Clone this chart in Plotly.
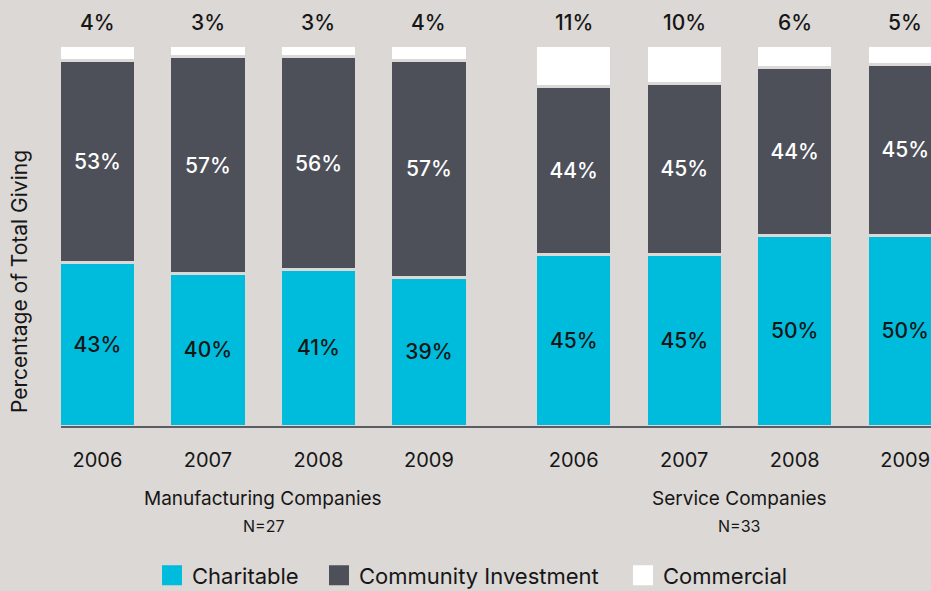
import plotly.graph_objects as go

# Share of total giving by type, per sector and year (percent)
years = ["2006", "2007", "2008", "2009"]
groups = ["Manufacturing Companies", "Service Companies"]
group_n = ["N=27", "N=33"]

charitable = [43, 40, 41, 39, 45, 45, 50, 50]
community = [53, 57, 56, 57, 44, 45, 44, 45]
commercial = [4, 3, 3, 4, 11, 10, 6, 5]

series_names = ["Charitable", "Community Investment", "Commercial"]

# Bar slots: four years per sector, with a wider gap between the sectors
group_gap = 0.31
xpos = [i for i in range(4)] + [4 + group_gap + i for i in range(4)]
ticktext = years + years

BG = "#dbd8d5"
CYAN = "#00bcdc"
DARK = "#4d5059"
WHITE = "#ffffff"
INK = "#161616"
FONT = "Inter"
series_colors = [CYAN, DARK, WHITE]

bar_width = 0.69
outline = dict(color=BG, width=3)
label_font = dict(size=21, family=FONT, weight=500)

fig = go.Figure()
fig.add_trace(go.Bar(
    name=series_names[0], x=xpos, y=charitable, width=bar_width,
    marker=dict(color=CYAN, line=outline), showlegend=False,
    text=[f"{v}%" for v in charitable], textposition="inside",
    insidetextanchor="middle", textangle=0,
    textfont=dict(color=INK, **label_font),
))
fig.add_trace(go.Bar(
    name=series_names[1], x=xpos, y=community, width=bar_width,
    marker=dict(color=DARK, line=outline), showlegend=False,
    text=[f"{v}%" for v in community], textposition="inside",
    insidetextanchor="middle", textangle=0,
    textfont=dict(color=WHITE, **label_font),
))
fig.add_trace(go.Bar(
    name=series_names[2], x=xpos, y=commercial, width=bar_width,
    marker=dict(color=WHITE, line=outline), showlegend=False,
    textposition="none",
))

# Legend entries with large square swatches, one legend box per series
legend_ids = ["legend", "legend2", "legend3"]
for name, color, lid in zip(series_names, series_colors, legend_ids):
    fig.add_trace(go.Scatter(
        x=[None], y=[None], mode="markers", name=name, legend=lid,
        marker=dict(symbol="square", size=16, color=color,
                    line=dict(color=color, width=4)),
        hoverinfo="skip",
    ))

annotations = []
# Commercial share printed above each stack
for x, v in zip(xpos, commercial):
    annotations.append(dict(
        x=x, y=100, xref="x", yref="y", text=f"{v}%", showarrow=False,
        yanchor="middle", yshift=23,
        font=dict(color=INK, **label_font),
    ))

# Sector names and sample sizes under the year labels
for g, (name, n) in enumerate(zip(groups, group_n)):
    mid = sum(xpos[g * 4:(g + 1) * 4]) / 4
    annotations.append(dict(
        x=mid, y=0, xref="x", yref="paper", text=name, showarrow=False,
        yanchor="middle", yshift=-72,
        font=dict(color=INK, size=19, family=FONT),
    ))
    annotations.append(dict(
        x=mid, y=0, xref="x", yref="paper", text=n, showarrow=False,
        yanchor="middle", yshift=-100,
        font=dict(color=INK, size=16, family=FONT),
    ))

# Vertical axis caption
annotations.append(dict(
    x=0, y=0.378, xref="paper", yref="paper", text="Percentage of Total Giving",
    showarrow=False, textangle=-90, xanchor="center", yanchor="middle",
    xshift=-41, font=dict(color=INK, size=21, family=FONT),
))

unit_px = 110.5
left_px = 61
plot_w = 931 - left_px
x0 = -0.33
x1 = x0 + plot_w / unit_px

legend_style = dict(
    orientation="h", xanchor="left", y=-0.392, yanchor="middle",
    font=dict(color=INK, size=22, family=FONT),
    bgcolor="rgba(0,0,0,0)", borderwidth=0,
)

fig.update_layout(
    width=931, height=591,
    margin=dict(l=left_px, r=0, t=45, b=165, autoexpand=False),
    paper_bgcolor=BG, plot_bgcolor=BG,
    barmode="stack",
    showlegend=True,
    legend=dict(x=(152 - left_px) / plot_w, **legend_style),
    legend2=dict(x=(319 - left_px) / plot_w, **legend_style),
    legend3=dict(x=(623 - left_px) / plot_w, **legend_style),
    xaxis=dict(
        range=[x0, x1], tickvals=xpos, ticktext=ticktext,
        showgrid=False, zeroline=False,
        showline=True, linecolor="#5b5d63", linewidth=1.5,
        ticks="outside", ticklen=15, tickcolor="rgba(0,0,0,0)",
        tickfont=dict(color=INK, size=20, family=FONT),
        fixedrange=True,
    ),
    yaxis=dict(
        range=[0, 100], showgrid=False, zeroline=False, showline=False,
        showticklabels=False, ticks="", fixedrange=True,
    ),
    annotations=annotations,
    font=dict(family=FONT, color=INK),
)

fig.write_html("out.html")
